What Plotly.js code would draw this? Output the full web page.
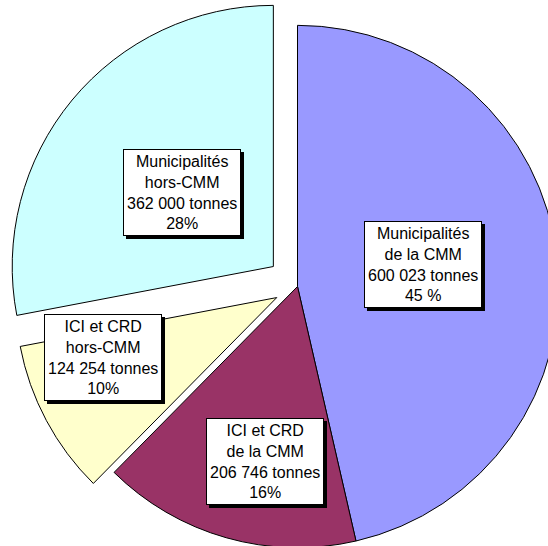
<!DOCTYPE html>
<html>
<head>
<meta charset="utf-8">
<script src="https://cdn.plot.ly/plotly-3.0.1.min.js"></script>
<style>
html, body { margin:0; padding:0; background:#ffffff; overflow:hidden; width:548px; height:546px; }
#chart { position:absolute; left:5.2px; top:-6.5px; width:585px; height:585px; }
</style>
</head>
<body>
<div id="chart"></div>
<script>
// Data
var categories = ["Municipalités de la CMM", "ICI et CRD de la CMM", "ICI et CRD hors-CMM", "Municipalités hors-CMM"];
var labelLines = [["Municipalités", "de la CMM"], ["ICI et CRD", "de la CMM"], ["ICI et CRD", "hors-CMM"], ["Municipalités", "hors-CMM"]];
var tonnes = [600023, 206746, 124254, 362000];
var pctLabels = ["45 %", "16%", "10%", "28%"];
var colors = ["#9999FF", "#993366", "#FFFFCC", "#CCFFFF"];
var pulls = [0, 0, 0.09, 0.12];

function fmt(n) {
  return String(n).replace(/\B(?=(\d{3})+(?!\d))/g, " ");
}

var W = 585, H = 585, offX = 5.2, offY = -6.5;
// label box centres (page pixels)
var labelPos = [[423.5, 263.5], [265.5, 461], [103, 356.5], [181.7, 192]];

var annotations = [];
var font = {family: "Liberation Sans, Arial, sans-serif", size: 16, color: "#000000"};
for (var i = 0; i < categories.length; i++) {
  var txt = labelLines[i].join("<br>") + "<br>" + fmt(tonnes[i]) + " tonnes<br>" + pctLabels[i];
  var xp = (labelPos[i][0] - offX) / W;
  var yp = 1 - (labelPos[i][1] - offY) / H;
  annotations.push({
    xref: "paper", yref: "paper", x: xp, y: yp, xanchor: "center", yanchor: "middle",
    text: txt, showarrow: false, font: font,
    bgcolor: "#FFFFFF", bordercolor: "#000000", borderwidth: 1, borderpad: 3
  });
}

var trace = {
  type: "pie",
  labels: categories,
  values: tonnes,
  sort: false,
  direction: "clockwise",
  rotation: 0,
  pull: pulls,
  marker: {colors: colors, line: {color: "#000000", width: 1}},
  textinfo: "none",
  hoverinfo: "label+value",
  showlegend: false,
  domain: {x: [0, 1], y: [0, 1]}
};

var layout = {
  width: W, height: H,
  margin: {l: 0, r: 0, t: 0, b: 0, pad: 0},
  paper_bgcolor: "rgba(0,0,0,0)",
  plot_bgcolor: "rgba(0,0,0,0)",
  showlegend: false,
  annotations: annotations
};

Plotly.newPlot("chart", [trace], layout, {displayModeBar: false, staticPlot: true}).then(function (gd) {
  // drop shadows behind the label boxes
  var rects = gd.querySelectorAll(".annotation rect.bg");
  rects.forEach(function (r) {
    var s = r.cloneNode(false);
    s.setAttribute("x", parseFloat(r.getAttribute("x") || 0) + 3);
    s.setAttribute("y", parseFloat(r.getAttribute("y") || 0) + 3);
    s.style.fill = "#000000";
    s.style.stroke = "#000000";
    s.setAttribute("class", "shadow");
    r.parentNode.insertBefore(s, r);
  });
});
</script>
</body>
</html>
